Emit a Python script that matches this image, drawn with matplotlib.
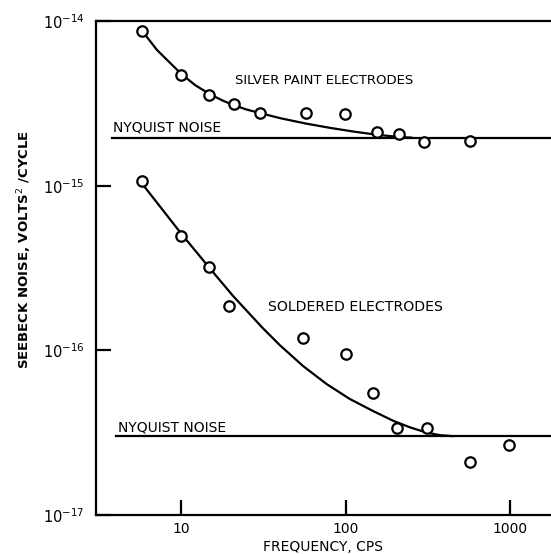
import numpy as np
import matplotlib
matplotlib.use("Agg")
import matplotlib.pyplot as plt
from matplotlib.ticker import FixedLocator, NullLocator

# measured points, silver paint electrodes
silver_f = [5.8, 10, 14.8, 21, 30, 57.5, 99, 155, 211, 300, 571]
silver_v = [8.7e-15, 4.7e-15, 3.56e-15, 3.13e-15, 2.76e-15, 2.76e-15, 2.72e-15,
            2.12e-15, 2.06e-15, 1.84e-15, 1.87e-15]

# measured points, soldered electrodes
solder_f = [5.8, 10, 14.8, 19.6, 55.2, 100.7, 147, 206, 313, 571, 986]
solder_v = [1.07e-15, 4.96e-16, 3.21e-16, 1.86e-16, 1.19e-16, 9.5e-17, 5.5e-17,
            3.38e-17, 3.38e-17, 2.1e-17, 2.67e-17]

# hand drawn curves (log10 of value)
silver_curve_f = [5.8, 7.14, 10, 12.2, 15, 17.8, 21, 25.1, 30.2, 40, 57.5, 80.5,
                  111, 153, 214, 251]
silver_curve_lv = [-14.060, -14.176, -14.320, -14.390, -14.445, -14.482, -14.512,
                   -14.538, -14.559, -14.590, -14.623, -14.649, -14.671, -14.690,
                   -14.705, -14.708]

solder_curve_f = [5.77, 10, 14.9, 20.8, 31.6, 40, 55.3, 76.8, 106, 148, 195, 247,
                  312, 375, 447]
solder_curve_lv = [-14.985, -15.290, -15.500, -15.672, -15.868, -15.970, -16.096,
                   -16.205, -16.295, -16.370, -16.428, -16.468, -16.500, -16.515,
                   -16.521]

# Nyquist noise levels
nyq_silver = 1.96e-15
nyq_solder = 3.0e-17

xticks = [10, 100, 1000]
xticklabels = ["10", "100", "1000"]
yticks = [1e-17, 1e-16, 1e-15, 1e-14]
yticklabels = [r"$10^{-17}$", r"$10^{-16}$", r"$10^{-15}$", r"$10^{-14}$"]

fig = plt.figure(figsize=(5.51, 5.54), dpi=100)
ax = fig.add_axes([0.1742, 0.0704, 0.8258, 0.8917])
ax.set_xscale("log")
ax.set_yscale("log")
ax.set_xlim(3.04, 1775)
ax.set_ylim(1e-17, 1e-14)

lw = 1.6
ax.plot(silver_curve_f, 10.0 ** np.array(silver_curve_lv), color="black", lw=lw,
        solid_joinstyle="round")
ax.plot(solder_curve_f, 10.0 ** np.array(solder_curve_lv), color="black", lw=lw,
        solid_joinstyle="round")
ax.plot([3.8, 1775], [nyq_silver] * 2, color="black", lw=lw)
ax.plot([4.0, 1775], [nyq_solder] * 2, color="black", lw=lw)

mk = dict(ls="none", marker="o", ms=7.5, mfc="white", mec="black", mew=1.6, zorder=3)
ax.plot(silver_f, silver_v, **mk)
ax.plot(solder_f, solder_v, **mk)

txt = dict(color="black", family="DejaVu Sans", va="center")
ax.text(21.3, 4.33e-15, "SILVER PAINT ELECTRODES", fontsize=9.5, **txt)
ax.text(3.86, 2.24e-15, "NYQUIST NOISE", fontsize=10, **txt)
ax.text(4.14, 3.38e-17, "NYQUIST NOISE", fontsize=10, **txt)
ax.text(33.8, 1.83e-16, "SOLDERED ELECTRODES", fontsize=10.2, **txt)

for s in ["top", "left", "bottom"]:
    ax.spines[s].set_linewidth(1.6)
ax.spines["right"].set_visible(False)

ax.xaxis.set_major_locator(FixedLocator(xticks))
ax.set_xticklabels(xticklabels)
ax.xaxis.set_minor_locator(NullLocator())
ax.yaxis.set_major_locator(FixedLocator(yticks))
ax.set_yticklabels(yticklabels)
ax.yaxis.set_minor_locator(NullLocator())
ax.tick_params(direction="in", length=11, width=1.6, labelsize=10.5, pad=8)
ax.tick_params(axis="x", pad=5, labelsize=10)

fig.text(0.586, 0.013, "FREQUENCY, CPS", ha="center", va="center", fontsize=10)
fig.text(0.045, 0.549, r"SEEBECK NOISE, VOLTS$^2$ /CYCLE", rotation=90,
         ha="center", va="center", fontsize=9.5, fontweight="bold")

fig.savefig("out.png", dpi=100)
